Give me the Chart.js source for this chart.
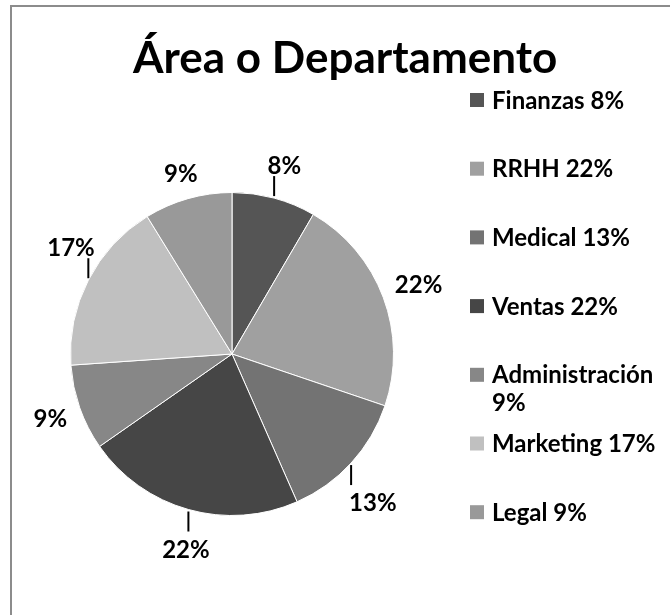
<!DOCTYPE html>
<html>
<head>
<meta charset="utf-8">
<script src="https://cdn.jsdelivr.net/npm/chart.js@4.4.0/dist/chart.umd.min.js"></script>
<style>
    html, body { margin: 0; padding: 0; background: #fff; overflow: hidden; }
    #wrap { position: relative; width: 670px; height: 615px; }
    #frame { position: absolute; left: 10px; top: 5px; width: 720px; height: 720px;
             border-left: 2px solid #8c8c8c; border-top: 2px solid #8c8c8c; }
    #chartDept { position: absolute; left: 0; top: 0; }
</style>
</head>
<body>
<div id="wrap">
    <div id="frame"></div>
    <canvas id="chartDept" width="670" height="615"></canvas>
</div>
<script>
const chartTitle = "Área o Departamento";
const departments = ["Finanzas", "RRHH", "Medical", "Ventas", "Administración", "Marketing", "Legal"];
const shares = [8.4, 21.8, 13.2, 21.9, 8.6, 17.3, 8.8];
const sliceColors = ["#555555", "#a0a0a0", "#737373", "#464646", "#878787", "#c0c0c0", "#999999"];

const FONT = "Lato, 'Noto Sans', sans-serif";

function pctText(i) {
    const total = shares.reduce((a, b) => a + b, 0);
    return Math.round(shares[i] / total * 100) + "%";
}

// dibuja titulo, etiquetas y leyenda al estilo Excel
const excelLook = {
    id: "excelLook",
    afterDraw(chart, args, opts) {
        const ctx = chart.ctx;
        const meta = chart.getDatasetMeta(0);
        ctx.save();
        ctx.fillStyle = "#000";

        // titulo
        ctx.font = "bold 44px " + FONT;
        ctx.textAlign = "left";
        ctx.textBaseline = "alphabetic";
        ctx.fillText(chartTitle, opts.titleX, opts.titleY);

        // etiquetas de porcentaje
        ctx.font = "bold 24px " + FONT;
        ctx.textAlign = "center";
        const capH = 17, boxH = 20;
        meta.data.forEach((arc, i) => {
            const p = arc.getProps(["x", "y", "startAngle", "endAngle", "outerRadius"], true);
            const mid = (p.startAngle + p.endAngle) / 2;
            const cos = Math.cos(mid), sin = Math.sin(mid);
            const label = pctText(i);
            const w = ctx.measureText(label).width;
            if (opts.leaders.includes(i)) {
                const ex = p.x + p.outerRadius * cos;
                const ey = p.y + p.outerRadius * sin;
                const dir = sin >= 0 ? 1 : -1;
                const endY = ey + dir * (opts.leaderLen + 2);
                ctx.strokeStyle = "#000";
                ctx.lineWidth = 2;
                ctx.beginPath();
                ctx.moveTo(ex, ey + dir * 2);
                ctx.lineTo(ex, endY);
                ctx.stroke();
                const lx = ex + cos * 24 + 4;
                const ly = dir > 0 ? endY + 9 + capH : endY - 2;
                ctx.fillText(label, lx, ly);
            } else {
                const ext = Math.abs(cos) * w / 2 + Math.abs(sin) * boxH / 2;
                const d = p.outerRadius + 12 + ext;
                ctx.fillText(label, p.x + d * cos, p.y + d * sin + capH / 2);
            }
        });

        // leyenda
        ctx.font = "bold 24px " + FONT;
        ctx.textAlign = "left";
        departments.forEach((name, i) => {
            const cy = opts.legendTop + i * opts.legendStep;
            ctx.fillStyle = sliceColors[i];
            ctx.fillRect(opts.legendX, cy - 7, 14, 14);
            ctx.fillStyle = "#000";
            const full = name + " " + pctText(i);
            let lines = [full];
            if (ctx.measureText(full).width > opts.legendMaxW) {
                lines = [name, pctText(i)];
            }
            lines.forEach((ln, k) => {
                ctx.fillText(ln, opts.legendX + 22, cy + capH / 2 + k * 28);
            });
        });
        ctx.restore();
    }
};

const ctx = document.getElementById("chartDept");
new Chart(ctx, {
    type: "pie",
    data: {
        labels: departments,
        datasets: [{
            data: shares,
            backgroundColor: sliceColors,
            borderColor: "#ffffff",
            borderWidth: 1
        }]
    },
    options: {
        responsive: false,
        animation: false,
        layout: { padding: { left: 70, right: 276, top: 192, bottom: 99 } },
        plugins: {
            legend: { display: false },
            tooltip: { enabled: false },
            excelLook: {
                titleX: 133, titleY: 73,
                leaders: [0, 2, 3, 5],
                leaderLen: 20,
                legendX: 470, legendTop: 100, legendStep: 68.7, legendMaxW: 178
            }
        }
    },
    plugins: [excelLook]
});
</script>
</body>
</html>
